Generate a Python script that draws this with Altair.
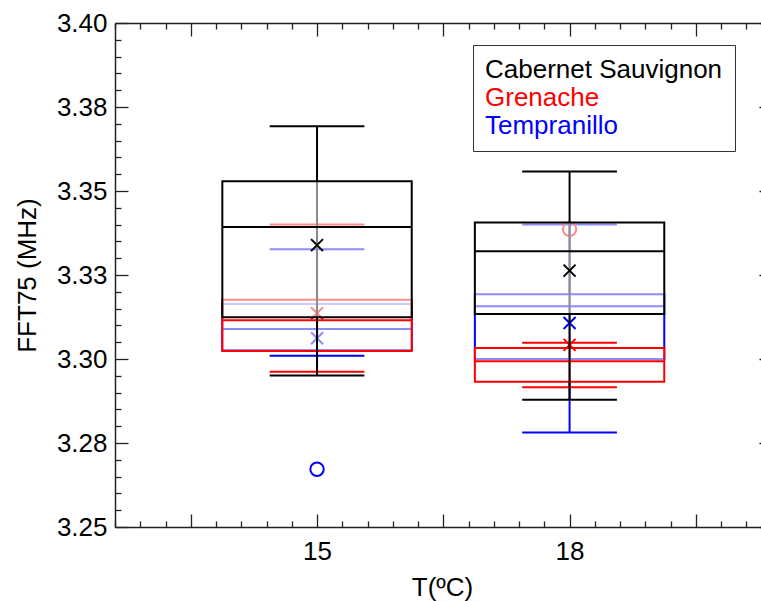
import altair as alt
import pandas as pd

# ---------------- data ----------------
temps = [15, 18]
varieties = ["Cabernet Sauvignon", "Grenache", "Tempranillo"]
colors = ["#000000", "#ff0000", "#0000ff"]

cab_low = [3.2951, 3.2879]
cab_q1 = [3.3124, 3.3134]
cab_med = [3.3393, 3.3321]
cab_q3 = [3.3529, 3.3406]
cab_high = [3.3693, 3.3558]
cab_mean = [3.3339, 3.3263]

gre_low = [3.2962, 3.2916]
gre_q1 = [3.3024, 3.2932]
gre_med = [3.3115, 3.2993]
gre_q3 = [3.3176, 3.3033]
gre_high = [3.3400, 3.3048]
gre_mean = [3.3136, 3.3042]

tem_low = [3.3010, 3.2781]
tem_q1 = [3.3027, 3.3000]
tem_med = [3.3089, 3.3157]
tem_q3 = [3.3164, 3.3193]
tem_high = [3.3327, 3.3400]
tem_mean = [3.3062, 3.3107]

out_variety = ["Tempranillo", "Grenache"]
out_temp = [15, 18]
out_value = [3.2672, 3.3386]

y_major_vals = [3.25, 3.275, 3.30, 3.325, 3.35, 3.375, 3.40]
y_major_labels = ["3.25", "3.28", "3.30", "3.33", "3.35", "3.38", "3.40"]
y_ticks = [round(3.25 + 0.005 * i, 3) for i in range(31)]
x_ticks = [round(0.2 + 0.1 * i, 1) for i in range(26)]

# ---------------- tables ----------------
stats = {
    "Cabernet Sauvignon": (cab_low, cab_q1, cab_med, cab_q3, cab_high, cab_mean),
    "Grenache": (gre_low, gre_q1, gre_med, gre_q3, gre_high, gre_mean),
    "Tempranillo": (tem_low, tem_q1, tem_med, tem_q3, tem_high, tem_mean),
}
rows = []
for v, (lo, q1, med, q3, hi, mn) in stats.items():
    for i, t in enumerate(temps):
        rows.append(dict(variety=v, temp=t, pos=i + 1, low=lo[i], q1=q1[i],
                         med=med[i], q3=q3[i], high=hi[i], mean=mn[i]))
df = pd.DataFrame(rows)

out_df = pd.DataFrame({
    "variety": out_variety,
    "temp": out_temp,
    "pos": [temps.index(t) + 1 for t in out_temp],
    "value": out_value,
})

# ---------------- styling ----------------
FONT = "Liberation Sans"
BOX_HALF = 0.375
CAP_HALF = 0.1875
LW = 2
FADE = 0.55
X_PATH = "M-1,-1L1,1M-1,1L1,-1"

xscale = alt.Scale(domain=[0.2, 2.758], nice=False, zero=False)
yscale = alt.Scale(domain=[3.25, 3.40], nice=False, zero=False)

x_label_expr = " : ".join(
    [f"datum.value == {i + 1} ? '{t}'" for i, t in enumerate(temps)]
) + " : ''"
y_label_expr = " : ".join(
    [f"datum.value == {v} ? '{s}'" for v, s in zip(y_major_vals, y_major_labels)]
) + " : ''"
x_major = "abs(datum.value*2 - round(datum.value*2)) < 0.01"
y_major = "abs(datum.value*40 - round(datum.value*40)) < 0.01"

common_axis = dict(
    grid=False,
    domainColor="#222222",
    domainWidth=1.5,
    tickColor="#222222",
    tickWidth=1.3,
    labelFont=FONT,
    labelFontSize=26,
    labelColor="black",
    labelOverlap=False,
    labelFlush=False,
    titleFont=FONT,
    titleFontSize=26,
    titleFontWeight="normal",
    titleColor="black",
)

y_axis = alt.Axis(
    orient="left",
    values=y_ticks,
    title="FFT75 (MHz)",
    titleAngle=270,
    titleX=-88,
    titleY=252,
    titleAlign="center",
    titleBaseline="middle",
    labelExpr=y_label_expr,
    tickSize=alt.ExprRef(expr=f"{y_major} ? -13 : -6"),
    labelPadding=21,
    **common_axis,
)

y_axis_right = alt.Axis(
    orient="right",
    values=y_ticks,
    title=None,
    labels=False,
    offset=11,
    tickSize=alt.ExprRef(expr=f"{y_major} ? -13 : -6"),
    **common_axis,
)

x_axis_bottom = alt.Axis(
    orient="bottom",
    values=x_ticks,
    title="T(ºC)",
    titleX=327,
    titleAlign="center",
    titleY=68,
    titleBaseline="alphabetic",
    labelExpr=x_label_expr,
    tickSize=alt.ExprRef(expr=f"{x_major} ? -13 : -6"),
    labelPadding=24,
    **common_axis,
)

x_axis_top = alt.Axis(
    orient="top",
    values=x_ticks,
    title=None,
    labels=False,
    tickSize=alt.ExprRef(expr=f"{x_major} ? -13 : -6"),
    **common_axis,
)

legend = alt.Legend(
    title=None,
    orient="none",
    legendX=358,
    legendY=22,
    strokeColor="#333333",
    fillColor="white",
    padding=12,
    labelFont=FONT,
    labelFontSize=26,
    labelColor=alt.ExprRef(expr="scale('color', datum.value)"),
    labelOffset=alt.ExprRef(expr="-26"),
    labelLimit=500,
    symbolSize=0,
    symbolOpacity=0,
    symbolStrokeWidth=0,
    rowPadding=2,
)

color = alt.Color("variety:N", scale=alt.Scale(domain=varieties, range=colors), legend=legend)

draw_order = ["Tempranillo", "Grenache", "Cabernet Sauvignon"]

layers = []
for k, v in enumerate(draw_order):
    base = alt.Chart(df).transform_filter(alt.datum.variety == v).transform_calculate(
        box_l=f"datum.pos - {BOX_HALF}",
        box_r=f"datum.pos + {BOX_HALF}",
        cap_l=f"datum.pos - {CAP_HALF}",
        cap_r=f"datum.pos + {CAP_HALF}",
    )
    xa_b = x_axis_bottom if k == 0 else None
    xa_t = x_axis_top if k == 0 else None
    ya_l = y_axis if k == 0 else None
    ya_r = y_axis_right if k == 0 else None

    # whisker line
    layers.append(base.mark_rule(strokeWidth=LW).encode(
        x=alt.X("pos:Q", scale=xscale, axis=xa_b),
        y=alt.Y("low:Q", scale=yscale, axis=ya_l),
        y2="high:Q",
        color=color,
    ))
    # caps
    layers.append(base.mark_rule(strokeWidth=LW).encode(
        x=alt.X("cap_l:Q", scale=xscale, axis=xa_t),
        x2="cap_r:Q",
        y=alt.Y("low:Q", scale=yscale, axis=ya_r),
        color=color,
    ))
    layers.append(base.mark_rule(strokeWidth=LW).encode(
        x=alt.X("cap_l:Q", scale=xscale, axis=None),
        x2="cap_r:Q",
        y=alt.Y("high:Q", scale=yscale, axis=None),
        color=color,
    ))
    # semi-transparent white box fill
    layers.append(base.mark_rect(fill="white", fillOpacity=FADE).encode(
        x=alt.X("box_l:Q", scale=xscale, axis=None),
        x2="box_r:Q",
        y=alt.Y("q1:Q", scale=yscale, axis=None),
        y2="q3:Q",
    ))
    # box outline
    layers.append(base.mark_rect(filled=False, strokeWidth=LW).encode(
        x=alt.X("box_l:Q", scale=xscale, axis=None),
        x2="box_r:Q",
        y=alt.Y("q1:Q", scale=yscale, axis=None),
        y2="q3:Q",
        color=color,
    ))
    # median
    layers.append(base.mark_rule(strokeWidth=LW).encode(
        x=alt.X("box_l:Q", scale=xscale, axis=None),
        x2="box_r:Q",
        y=alt.Y("med:Q", scale=yscale, axis=None),
        color=color,
    ))
    # mean
    layers.append(base.mark_point(shape=X_PATH, filled=False, size=144,
                                  strokeWidth=LW, opacity=1).encode(
        x=alt.X("pos:Q", scale=xscale, axis=None),
        y=alt.Y("mean:Q", scale=yscale, axis=None),
        color=color,
    ))
    # outliers
    if v in out_variety:
        layers.append(alt.Chart(out_df).transform_filter(alt.datum.variety == v)
                      .mark_point(shape="circle", filled=False, size=180,
                                  strokeWidth=LW, opacity=1).encode(
            x=alt.X("pos:Q", scale=xscale, axis=None),
            y=alt.Y("value:Q", scale=yscale, axis=None),
            color=color,
        ))

chart = alt.layer(*layers).resolve_axis(x="independent", y="independent").properties(
    width=646,
    height=504,
    autosize=alt.AutoSizeParams(type="none"),
    padding={"left": 115, "top": 23, "right": 0, "bottom": 74},
).configure_view(strokeWidth=0)

chart.save("out.html", embed_options={"renderer": "svg", "actions": False})
